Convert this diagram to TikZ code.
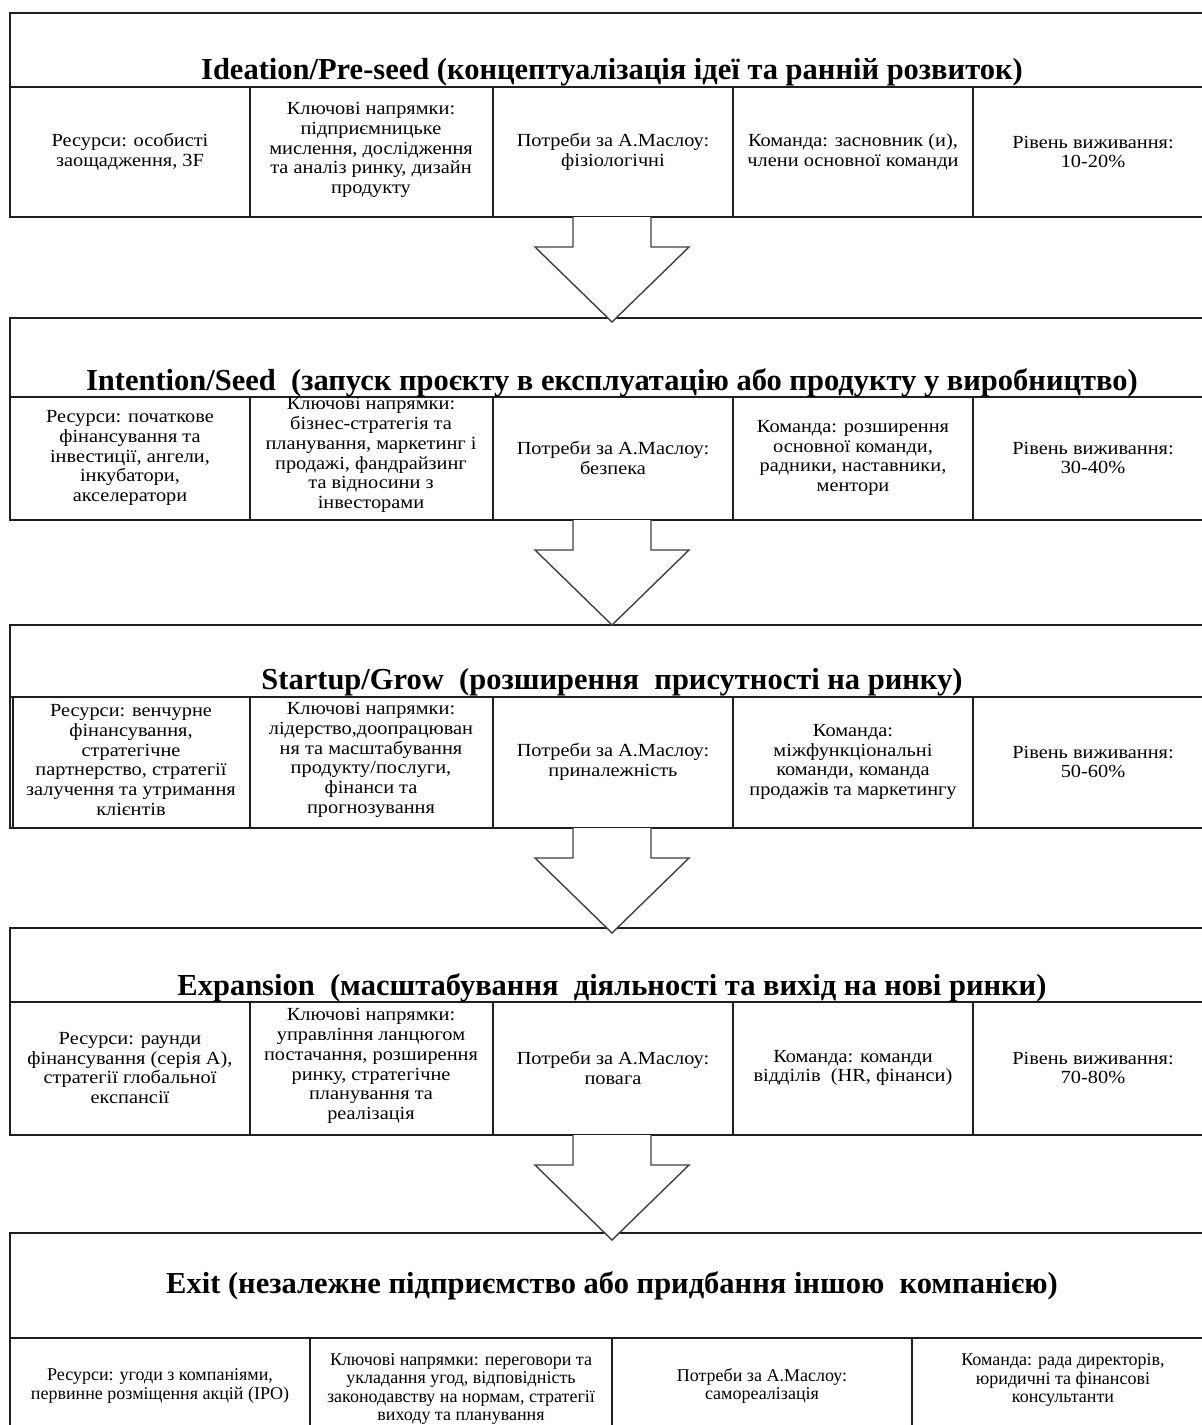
\documentclass[tikz,border=0pt]{standalone}
\usepackage{fontspec}
\setmainfont{LiberationSerif}[Extension=.ttf,UprightFont=*-Regular,BoldFont=*-Bold,ItalicFont=*-Italic,BoldItalicFont=*-BoldItalic]
\newfontfamily\widecellfont{LiberationSerif}[Extension=.ttf,UprightFont=*-Regular,BoldFont=*-Bold,FakeStretch=1.1]
\begin{document}
\begin{tikzpicture}[x=1pt,y=-1pt,
  frame/.style={draw=black!88, line width=2pt},
  divider/.style={draw=black!88, line width=1.4pt},
  stagetitle/.style={anchor=base, inner sep=0pt, font=\fontsize{30.5}{33}\selectfont\bfseries},
  cell/.style={align=center, inner sep=0pt, font=\widecellfont\fontsize{18.5}{19.7}\selectfont},
  smallcell/.style={align=center, inner sep=0pt, font=\fontsize{18}{18.2}\selectfont},
  flow/.style={draw=black!75, line width=1.4pt, fill=white, line join=miter}]
\useasboundingbox (0,0) rectangle (1202,1425);
\begin{scope}
\clip (0,0) rectangle (1202,1425);

% ---------- stage 1 ----------
\draw[frame] (10,13) rectangle (1214,217);
\draw[frame] (10,87) -- (1214,87);
\foreach \x in {250,493,733,973} \draw[divider] (\x,87) -- (\x,217);
\node[stagetitle] (t1) at (612,79) {Ideation/Pre-seed (концептуалізація ідеї та ранній розвиток)};
\node[cell] (s1a) at (130,152) {Ресурси: особисті\\заощадження, 3F};
\node[cell] (s1b) at (371,150) {Ключові напрямки:\\підприємницьке\\мислення, дослідження\\та аналіз ринку, дизайн\\продукту};
\node[cell] (s1c) at (613,152) {Потреби за А.Маслоу:\\фізіологічні};
\node[cell] (s1d) at (853,152) {Команда: засновник (и),\\члени основної команди};
\node[cell] (s1e) at (1093,152) {Рівень виживання:\\10-20\%};
\coordinate (b1) at (612,217);

% ---------- stage 2 ----------
\draw[frame] (10,318) rectangle (1214,520);
\draw[frame] (10,397) -- (1214,397);
\foreach \x in {250,493,733,973} \draw[divider] (\x,397) -- (\x,520);
\node[stagetitle] (t2) at (612,390) {Intention/Seed\ \ (запуск проєкту в експлуатацію або продукту у виробництво)};
\node[cell] (s2a) at (130,458) {Ресурси: початкове\\фінансування та\\інвестиції, ангели,\\інкубатори,\\акселератори};
\node[cell] (s2b) at (371,455) {Ключові напрямки:\\бізнес-стратегія та\\планування, маркетинг і\\продажі, фандрайзинг\\та відносини з\\інвесторами};
\node[cell] (s2c) at (613,458) {Потреби за А.Маслоу:\\безпека};
\node[cell] (s2d) at (853,458) {Команда: розширення\\основної команди,\\радники, наставники,\\ментори};
\node[cell] (s2e) at (1093,458) {Рівень виживання:\\30-40\%};
\coordinate (b2) at (612,520);

% ---------- stage 3 ----------
\draw[frame] (10,625) rectangle (1214,828);
\draw[frame] (10,697) -- (1214,697);
\draw[divider] (13,697) -- (13,828);
\foreach \x in {250,493,733,973} \draw[divider] (\x,697) -- (\x,828);
\node[stagetitle] (t3) at (612,689) {Startup/Grow\ \ (розширення\ \ присутності на ринку)};
\node[cell] (s3a) at (131,760) {Ресурси: венчурне\\фінансування,\\стратегічне\\партнерство, стратегії\\залучення та утримання\\клієнтів};
\node[cell] (s3b) at (371,760) {Ключові напрямки:\\лідерство,доопрацюван\\ня та масштабування\\продукту/послуги,\\фінанси та\\прогнозування};
\node[cell] (s3c) at (613,762) {Потреби за А.Маслоу:\\приналежність};
\node[cell] (s3d) at (853,762) {Команда:\\міжфункціональні\\команди, команда\\продажів та маркетингу};
\node[cell] (s3e) at (1093,762) {Рівень виживання:\\50-60\%};
\coordinate (b3) at (612,828);

% ---------- stage 4 ----------
\draw[frame] (10,928) rectangle (1214,1135);
\draw[frame] (10,1002) -- (1214,1002);
\foreach \x in {250,493,733,973} \draw[divider] (\x,1002) -- (\x,1135);
\node[stagetitle] (t4) at (612,995) {Expansion\ \ (масштабування\ \ діяльності та вихід на нові ринки)};
\node[cell] (s4a) at (130,1068) {Ресурси: раунди\\фінансування (серія А),\\стратегії глобальної\\експансії};
\node[cell] (s4b) at (371,1066) {Ключові напрямки:\\управління ланцюгом\\постачання, розширення\\ринку, стратегічне\\планування та\\реалізація};
\node[cell] (s4c) at (613,1068) {Потреби за А.Маслоу:\\повага};
\node[cell] (s4d) at (853,1068) {Команда: команди\\відділів\ \ (HR, фінанси)};
\node[cell] (s4e) at (1093,1068) {Рівень виживання:\\70-80\%};
\coordinate (b4) at (612,1135);

% ---------- stage 5 ----------
\draw[frame] (10,1233) rectangle (1214,1450);
\draw[frame] (10,1338) -- (1214,1338);
\foreach \x in {310,612,912} \draw[divider] (\x,1338) -- (\x,1450);
\node[stagetitle] (t5) at (612,1293) {Exit (незалежне підприємство або придбання іншою\ \ компанією)};
\node[smallcell] (s5a) at (160,1386) {Ресурси: угоди з компаніями,\\первинне розміщення акцій (IPO)};
\node[smallcell] (s5b) at (461,1389) {Ключові напрямки: переговори та\\укладання угод, відповідність\\законодавству на нормам, стратегії\\виходу та планування};
\node[smallcell] (s5c) at (762,1386) {Потреби за А.Маслоу:\\самореалізація};
\node[smallcell] (s5d) at (1063,1380) {Команда: рада директорів,\\юридичні та фінансові\\консультанти};

% ---------- block arrows between stages ----------
\foreach \b in {b1,b2,b3,b4}
  \draw[flow] (\b) ++(-39,0) -- ++(0,30) -- ++(-38,0) -- ++(77,75) -- ++(77,-75) -- ++(-38,0) -- ++(0,-30);
\end{scope}
\end{tikzpicture}
\end{document}
